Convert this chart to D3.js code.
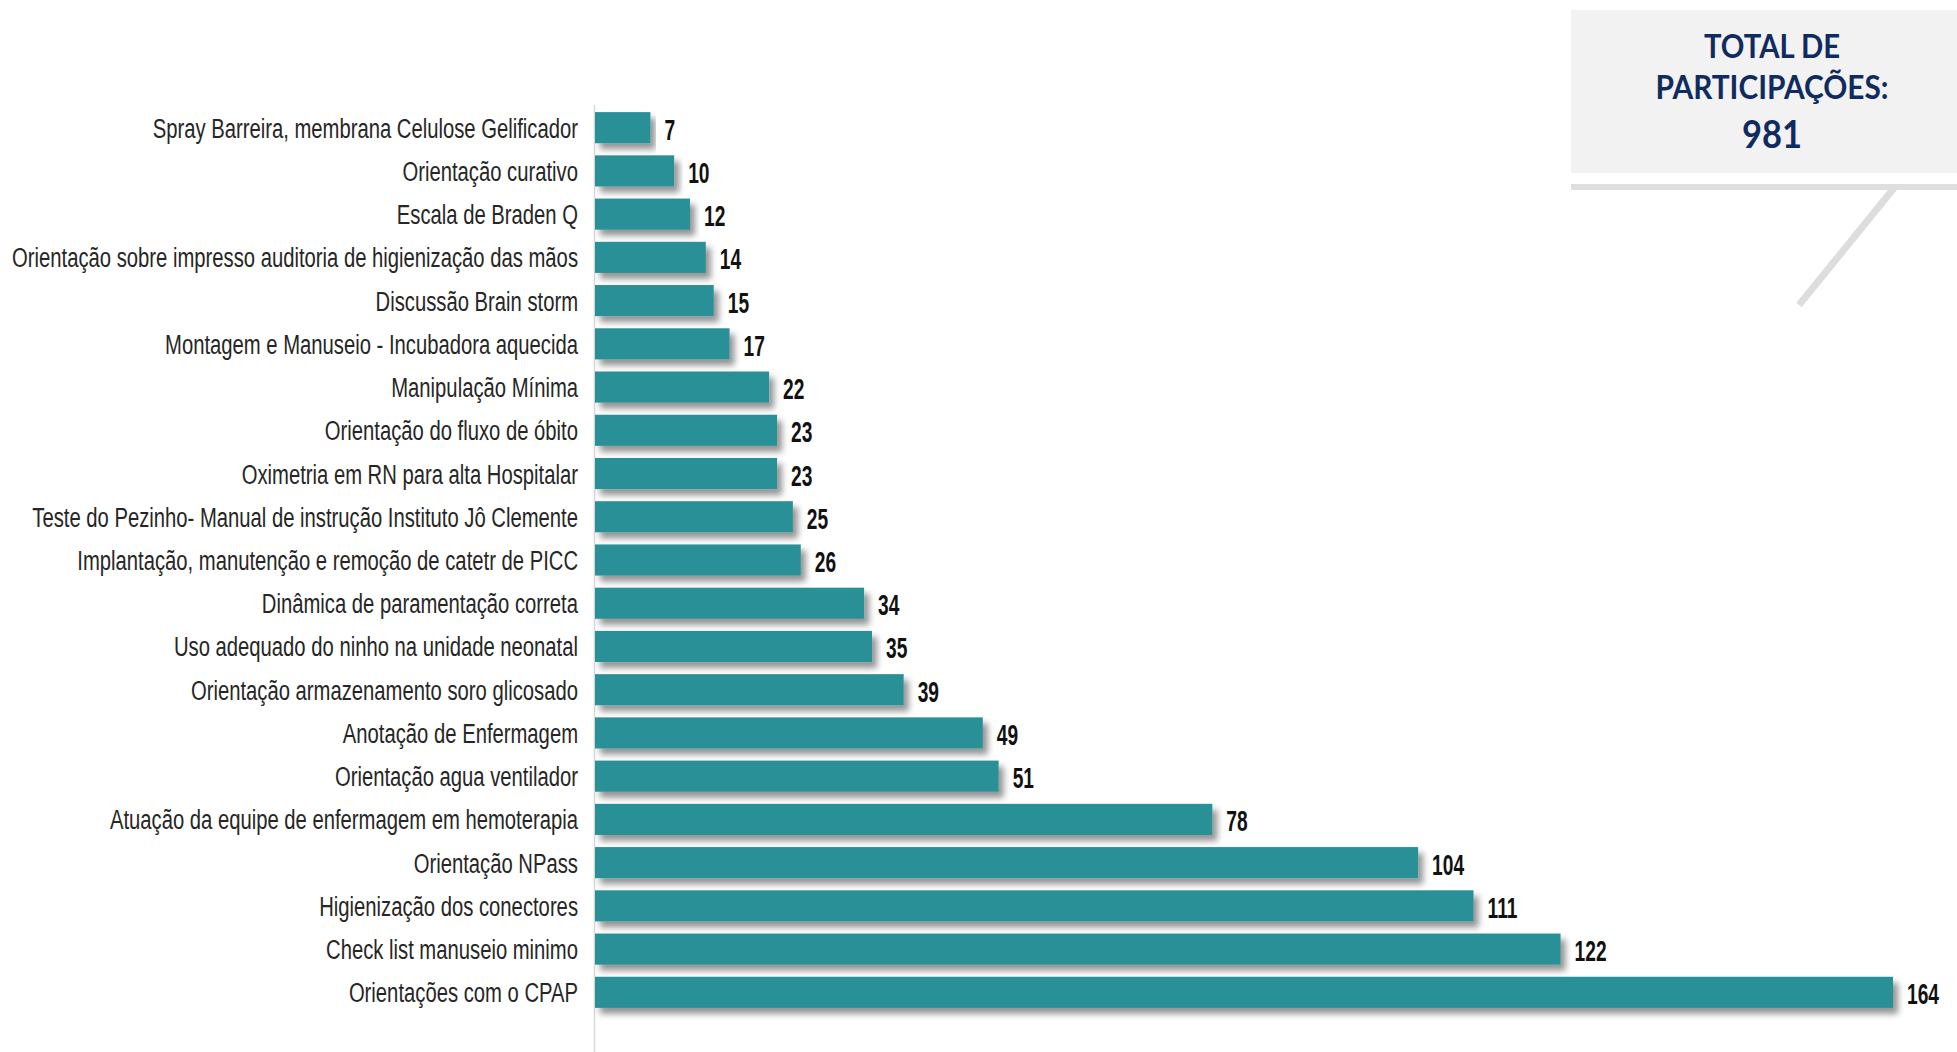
<!DOCTYPE html>
<html>
<head>
<meta charset="utf-8">
<script src="https://cdn.jsdelivr.net/npm/d3@7"></script>
<style>
  html, body { margin: 0; padding: 0; background: #ffffff; }
  svg { display: block; }
</style>
</head>
<body>
<svg id="chart" width="1957" height="1052"></svg>
<script>
const categories = [
  "Spray Barreira, membrana Celulose Gelificador",
  "Orientação curativo",
  "Escala de Braden Q",
  "Orientação sobre impresso auditoria de higienização das mãos",
  "Discussão Brain storm",
  "Montagem e Manuseio - Incubadora aquecida",
  "Manipulação Mínima",
  "Orientação do fluxo de óbito",
  "Oximetria em RN para alta Hospitalar",
  "Teste do Pezinho- Manual de instrução Instituto Jô Clemente",
  "Implantação, manutenção e remoção de catetr de PICC",
  "Dinâmica de paramentação correta",
  "Uso adequado do ninho na unidade neonatal",
  "Orientação armazenamento soro glicosado",
  "Anotação de Enfermagem",
  "Orientação agua ventilador",
  "Atuação da equipe de enfermagem em hemoterapia",
  "Orientação NPass",
  "Higienização dos conectores",
  "Check list manuseio minimo",
  "Orientações com o CPAP"
];
const participations = [7, 10, 12, 14, 15, 17, 22, 23, 23, 25, 26, 34, 35, 39, 49, 51, 78, 104, 111, 122, 164];
const totalLines = ["TOTAL DE", "PARTICIPAÇÕES:"];
const totalValue = 981;

const svg = d3.select("#chart");
const W = 1957, H = 1052;

const defs = svg.append("defs");
const f = defs.append("filter").attr("id", "shadow")
  .attr("x", "-5%").attr("y", "-40%").attr("width", "115%").attr("height", "200%");
f.append("feDropShadow").attr("dx", 5).attr("dy", 6).attr("stdDeviation", 3)
  .attr("flood-color", "#000").attr("flood-opacity", 0.42);

const x = d3.scaleLinear().domain([0, 164]).range([595, 1893]);
const y = d3.scaleBand().domain(categories).range([100, 1020]).paddingInner(0.28).paddingOuter(0.28);

// axis line
svg.append("line")
  .attr("x1", 594.5).attr("x2", 594.5).attr("y1", 105).attr("y2", H)
  .attr("stroke", "#d9d9d9").attr("stroke-width", 1.5);

// bars
svg.append("g").selectAll("rect")
  .data(categories)
  .join("rect")
  .attr("x", x(0))
  .attr("y", d => y(d))
  .attr("width", (d, i) => x(participations[i]) - x(0))
  .attr("height", y.bandwidth())
  .attr("fill", "#2c9098")
  .attr("filter", "url(#shadow)");

// category labels
const labelG = svg.append("g")
  .attr("font-family", "'Liberation Sans Narrow', 'Arial Narrow', 'Liberation Sans', Arial, sans-serif")
  .attr("font-size", 27)
  .attr("fill", "#262626");
const labels = labelG.selectAll("text")
  .data(categories)
  .join("text")
  .attr("text-anchor", "end")
  .text(d => d);
const longest = labels.filter((d, i) => i === 3).node().getComputedTextLength();
const kx = 566 / longest;
labels.attr("transform", d => `translate(578,${y(d) + y.bandwidth() / 2 + 10}) scale(${kx},1)`);

// value labels
const valG = svg.append("g")
  .attr("font-family", "'Liberation Sans Narrow', 'Arial Narrow', 'Liberation Sans', Arial, sans-serif")
  .attr("font-size", 29)
  .attr("font-weight", "bold")
  .attr("fill", "#111");
const vals = valG.selectAll("text")
  .data(categories)
  .join("text")
  .text((d, i) => participations[i]);
const w164 = vals.filter((d, i) => i === 20).node().getComputedTextLength();
const kv = 32 / w164;
vals.attr("transform", (d, i) => `translate(${x(participations[i]) + 14},${y(d) + y.bandwidth() / 2 + 12}) scale(${kv},1)`);

// total box
const boxG = svg.append("g");
boxG.append("rect").attr("x", 1571).attr("y", 10).attr("width", W - 1571).attr("height", 163).attr("fill", "#f2f2f2");
boxG.append("rect").attr("x", 1571).attr("y", 184).attr("width", W - 1571).attr("height", 6).attr("fill", "#dedede");
boxG.append("line").attr("x1", 1894).attr("y1", 188).attr("x2", 1799).attr("y2", 305)
  .attr("stroke", "#dddddd").attr("stroke-width", 7);

const boxText = boxG.append("g")
  .attr("font-family", "Lato, 'Open Sans', 'Noto Sans', sans-serif")
  .attr("font-weight", "bold")
  .attr("fill", "#0f2b60")
  .attr("text-anchor", "middle");
boxText.append("text").attr("x", 1772).attr("y", 58).attr("font-size", 32)
  .attr("textLength", 136).attr("lengthAdjust", "spacingAndGlyphs").text(totalLines[0]);
boxText.append("text").attr("x", 1772).attr("y", 99).attr("font-size", 32)
  .attr("textLength", 233).attr("lengthAdjust", "spacingAndGlyphs").text(totalLines[1]);
boxText.append("text").attr("x", 1772).attr("y", 148).attr("font-size", 38)
  .attr("textLength", 60).attr("lengthAdjust", "spacingAndGlyphs").text(totalValue);
</script>
</body>
</html>
